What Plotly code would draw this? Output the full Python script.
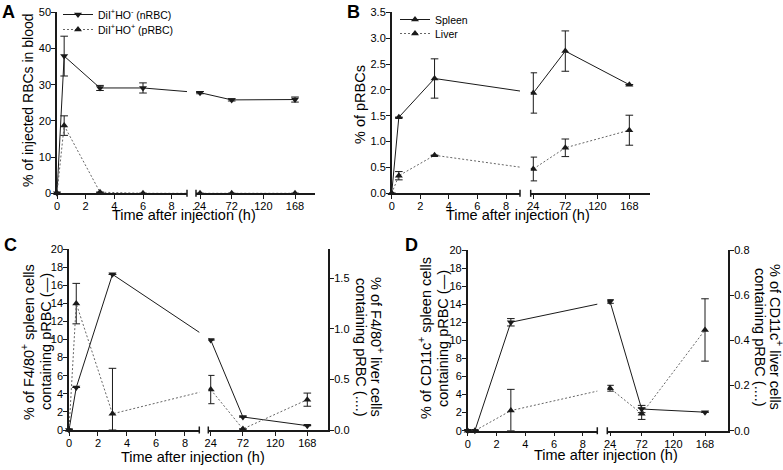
import plotly.graph_objects as go

W, H = 783, 470
FONT = "Liberation Sans, Arial, Helvetica, sans-serif"

# ---------------- data ----------------
time_A = [0, 0.5, 3, 6, 24, 72, 168]
nrbc_A = [0, 37.9, 29.1, 29.1, 27.8, 25.8, 25.9]
nrbc_A_err = [0, 5.5, 0.7, 1.4, 0.3, 0.3, 0.7]
prbc_A = [0, 18.7, 0.3, 0, 0, 0, 0]
prbc_A_err = [0, 2.7, 0, 0, 0, 0, 0]

time_BCD = [0, 0.5, 3, 24, 72, 168]
spleen_B = [0, 1.47, 2.22, 1.94, 2.75, 2.10]
spleen_B_err = [0, 0, 0.38, 0.39, 0.39, 0]
liver_B = [0, 0.34, 0.735, 0.47, 0.88, 1.22]
liver_B_err = [0, 0.08, 0, 0.23, 0.17, 0.29]

spleen_C = [0, 4.7, 17.2, 9.95, 1.44, 0.48]
spleen_C_err = [0, 0, 0, 0, 0, 0]
liver_C = [0, 1.25, 0.16, 0.40, 0.01, 0.30]
liver_C_err = [0, 0.2, 0.45, 0.14, 0, 0.065]

spleen_D = [0, 0, 12.0, 14.3, 2.4, 2.05]
spleen_D_err = [0, 0, 0.41, 0.2, 0.4, 0]
liver_D = [0, 0, 0.089, 0.188, 0.075, 0.446]
liver_D_err = [0, 0, 0.094, 0.013, 0.025, 0.138]

ticks_early = [0, 2, 4, 6, 8]
ticks_late = [24, 72, 120, 168]
BREAK_T = 12  # hours: times below are on the early part of the broken axis

# ---------------- geometry (pixels) ----------------
def fx(p):
    return p / W


def fy(p):
    return 1 - p / H


# per panel: early segment pixels + hour range, late segment pixels + hour range, y pixels
PANELS = {
    "A": dict(p1=(57, 187), r1=(0, 9.07), p2=(196, 315), r2=(17.9, 198.3), py=(12.3, 193.3)),
    "B": dict(p1=(391.7, 520), r1=(0, 8.98), p2=(530.7, 650), r2=(20.1, 199), py=(12.3, 193.3)),
    "C": dict(p1=(69, 199.3), r1=(0, 8.99), p2=(208.3, 328.3), r2=(20.4, 199.3), py=(249, 430)),
    "D": dict(p1=(467.7, 597.3), r1=(0, 9.01), p2=(607.3, 728.3), r2=(19.9, 203.3), py=(250, 430.7)),
}


def broken(panel, t):
    """Map hours onto the broken (two-segment) time axis of a panel."""
    g = PANELS[panel]
    (a, b), (lo, hi) = (g["p1"], g["r1"]) if t < BREAK_T else (g["p2"], g["r2"])
    return a + (t - lo) * (b - a) / (hi - lo)


fig = go.Figure()
INK = "#1a1a1a"
DOT = "2px,2px"
DOTC = "#666"


def add_series(panel, x, y, err, xa, ya, name, symbol, dash, color, legend=None):
    fig.add_trace(go.Scatter(
        x=[broken(panel, t) for t in x], y=y, mode="lines+markers",
        line=dict(color=color, width=1, dash=dash),
        marker=dict(symbol=symbol, size=7, color=INK, line=dict(width=0)),
        error_y=dict(type="data", symmetric=False, array=err,
                     arrayminus=[min(e, v) for e, v in zip(err, y)],
                     thickness=1, width=3.8, color=INK),
        cliponaxis=False, xaxis=xa, yaxis=ya, name=name,
        showlegend=legend is not None, legend=legend if legend else "legend",
        hoverinfo="skip"))


# A
add_series("A", time_A, nrbc_A, nrbc_A_err, "x", "y",
           "DiI<sup>+</sup>HO<sup>-</sup> (nRBC)", "triangle-down", "solid", INK, "legend")
add_series("A", time_A, prbc_A, prbc_A_err, "x", "y",
           "DiI<sup>+</sup>HO<sup>+</sup> (pRBC)", "triangle-up", DOT, DOTC, "legend2")
# B
add_series("B", time_BCD, spleen_B, spleen_B_err, "x2", "y2",
           "Spleen", "triangle-up", "solid", INK, "legend3")
add_series("B", time_BCD, liver_B, liver_B_err, "x2", "y2",
           "Liver", "triangle-up", DOT, DOTC, "legend4")
# C
add_series("C", time_BCD, liver_C, liver_C_err, "x3", "y4",
           "Liver", "triangle-up", DOT, DOTC)
add_series("C", time_BCD, spleen_C, spleen_C_err, "x3", "y3",
           "Spleen", "triangle-down", "solid", INK)
# D
add_series("D", time_BCD, liver_D, liver_D_err, "x4", "y6",
           "Liver", "triangle-up", DOT, DOTC)
add_series("D", time_BCD, spleen_D, spleen_D_err, "x4", "y5",
           "Spleen", "triangle-down", "solid", INK)

# ---------------- axes ----------------
base = dict(showline=True, linecolor=INK, linewidth=1.5, ticks="outside",
            ticklen=4, tickwidth=1.2, tickcolor=INK, showgrid=False,
            zeroline=False, fixedrange=True, automargin=False,
            ticklabelstandoff=-2,
            tickfont=dict(family=FONT, size=11, color="black"))

axes_spec = [
    # panel, x key, x ref, y key, y ref, y range, dtick, format, right axis
    ("A", "xaxis", "x", "yaxis", "y", [0, 50], 10, "d", None),
    ("B", "xaxis2", "x2", "yaxis2", "y2", [0, 3.5], 0.5, ".1f", None),
    ("C", "xaxis3", "x3", "yaxis3", "y3", [0, 20], 2, "d", ("yaxis4", [0, 1.79], 0.5)),
    ("D", "xaxis4", "x4", "yaxis5", "y5", [0, 20], 2, "d", ("yaxis6", [0, 0.8], 0.2)),
]

layout_axes = {}
shapes = []
all_ticks = ticks_early + ticks_late
for panel, xk, xr, yk, yr, ry, dt, fmt, right in axes_spec:
    g = PANELS[panel]
    left, gap0, gap1, rightpx = g["p1"][0], g["p1"][1], g["p2"][0], g["p2"][1]
    layout_axes[xk] = dict(base, domain=[fx(left), fx(rightpx)], range=[left, rightpx],
                           anchor=yr, tickmode="array",
                           tickvals=[broken(panel, t) for t in all_ticks],
                           ticktext=[str(t) for t in all_ticks])
    layout_axes[yk] = dict(base, domain=[fy(g["py"][1]), fy(g["py"][0])], range=ry,
                           anchor=xr, dtick=dt, tick0=0, tickformat=fmt)
    if right:
        rk, rr, rdt = right
        layout_axes[rk] = dict(base, overlaying=yr, range=rr, anchor=xr, side="right",
                               dtick=rdt, tick0=0, tickformat=".1f")
    hpx = g["py"][1] - g["py"][0]
    # blank the gap of the broken axis
    shapes.append(dict(type="rect", xref=xr, yref=yr + " domain", layer="above",
                       x0=gap0, x1=gap1, y0=-3 / hpx, y1=1.0,
                       fillcolor="white", line=dict(width=0)))
    for xpos in (gap0, gap1):
        shapes.append(dict(type="line", xref=xr, yref=yr + " domain", layer="above",
                           x0=xpos, x1=xpos, y0=-3.5 / hpx, y1=3.5 / hpx,
                           line=dict(color=INK, width=1.5)))

# ---------------- annotations ----------------
ann = []


def text(s, x, y, size=14.5, angle=0, bold=False):
    ann.append(dict(text=f"<b>{s}</b>" if bold else s, x=fx(x), y=fy(y),
                    xref="paper", yref="paper", showarrow=False, textangle=angle,
                    xanchor="center", yanchor="middle",
                    font=dict(family=FONT, size=size, color="black")))


text("A", 8.5, 12, 18, bold=True)
text("B", 353, 12, 18, bold=True)
text("C", 10, 245, 18, bold=True)
text("D", 411, 245, 18, bold=True)

for cx, cy in ((184, 215), (518, 215), (193, 457), (606, 455)):
    text("Time after injection (h)", cx, cy, 14.5)

text("% of injected RBCs in blood", 28, 100, 14, -90)
text("% of pRBCs", 360, 105, 14.5, -90)
text("% of F4/80<sup>+</sup> spleen cells", 28, 342, 14.5, -90)
text("containing pRBC (—)", 46, 342, 14.5, -90)
text("% of F4/80<sup>+</sup> liver cells", 377, 347, 14.5, 90)
text("containing pRBC (....)", 361, 347, 14.5, 90)
text("% of CD11c<sup>+</sup> spleen cells", 425, 338, 14.5, -90)
text("containing pRBC (—)", 443, 338, 14.5, -90)
text("% of CD11c<sup>+</sup> liver cells", 776, 337, 14.5, 90)
text("containing pRBC (....)", 760, 337, 14.5, 90)

legend_style = dict(bgcolor="rgba(0,0,0,0)", borderwidth=0, xanchor="left", yanchor="top",
                    font=dict(family=FONT, size=10.5, color="black"),
                    tracegroupgap=0, itemclick=False, itemdoubleclick=False)

fig.update_layout(
    width=W, height=H, margin=dict(l=0, r=0, t=0, b=0, autoexpand=False),
    paper_bgcolor="white", plot_bgcolor="white",
    font=dict(family=FONT, color="black"),
    shapes=shapes, annotations=ann, hovermode=False,
    legend=dict(legend_style, x=fx(58), y=fy(0)),
    legend2=dict(legend_style, x=fx(58), y=fy(15)),
    legend3=dict(legend_style, x=fx(395), y=fy(5)),
    legend4=dict(legend_style, x=fx(395), y=fy(19)),
    **layout_axes,
)

fig.write_html("out.html", config={"displayModeBar": False},
               post_script="document.body.style.margin='0';document.body.style.padding='0';")
